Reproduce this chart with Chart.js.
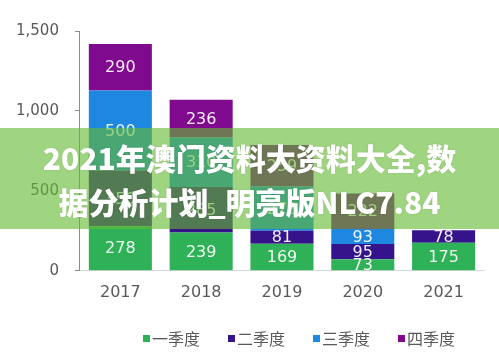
<!DOCTYPE html>
<html>
<head>
<meta charset="utf-8">
<script src="https://cdn.jsdelivr.net/npm/chart.js@4/dist/chart.umd.min.js"></script>
<style>
  html, body { margin: 0; padding: 0; background: #ffffff; }
  #wrap { position: relative; width: 499px; height: 359px; overflow: hidden; }
  #c { position: absolute; left: 0; top: 0; }
  #legend {
    position: absolute; left: 143px; top: 326px; height: 24px;
    display: flex; align-items: center;
    font-family: "Noto Sans CJK SC", sans-serif; font-size: 16px; color: #595959;
  }
  #legend .item { display: flex; align-items: center; margin-right: 28px; }
  #legend .sw { width: 7px; height: 7px; margin-right: 2px; }
  #band {
    position: absolute; left: 0; top: 128px; width: 499px; height: 101px;
    background: rgba(100, 185, 50, 0.62);
    display: flex; flex-direction: column; align-items: center; justify-content: center;
    font-family: "Noto Sans CJK SC", "Noto Sans", sans-serif; font-weight: 900;
    font-size: 30px; line-height: 44px; color: #ffffff; text-align: center;
    text-shadow: 0 0 2px rgba(0,0,0,0.15);
  }
</style>
</head>
<body>
<div id="wrap">
  <canvas id="c" width="499" height="359"></canvas>
  <div id="legend"></div>
  <div id="band"><div>2021年澳门资料大资料大全,数</div><div>据分析计划_明亮版NLC7.84</div></div>
</div>
<script>
const categories = ['2017', '2018', '2019', '2020', '2021'];
const seriesNames = ['一季度', '二季度', '三季度', '四季度'];
const q1 = [278, 239, 169, 73, 175];
const q2 = [350, 285, 81, 95, 78];
const q3 = [500, 310, 278, 93, null];
const q4 = [290, 236, 259, 222, null];
const yTicks = [0, 500, 1000, 1500];

const colors = ['#2eb157', '#35138a', '#1e88e0', '#7f0a8e'];
const labelColors = ['#eefaf0', '#f1eefc', '#eef6ff', '#fbeefb'];

const valueLabels = {
  id: 'valueLabels',
  afterDatasetsDraw(chart) {
    const ctx = chart.ctx;
    ctx.save();
    ctx.font = '16px "DejaVu Sans", Verdana, sans-serif';
    ctx.textAlign = 'center';
    ctx.textBaseline = 'middle';
    chart.data.datasets.forEach((ds, di) => {
      const meta = chart.getDatasetMeta(di);
      meta.data.forEach((bar, i) => {
        const v = ds.data[i];
        if (v === null || v === undefined) return;
        const p = bar.getProps(['x', 'y', 'base'], true);
        ctx.fillStyle = labelColors[di];
        ctx.fillText(String(v), p.x, (p.y + p.base) / 2 + 1);
      });
    });
    ctx.restore();
  }
};

const htmlLegend = {
  id: 'htmlLegend',
  afterUpdate(chart) {
    const el = document.getElementById('legend');
    el.innerHTML = '';
    chart.data.datasets.forEach(ds => {
      const item = document.createElement('div');
      item.className = 'item';
      const sw = document.createElement('span');
      sw.className = 'sw';
      sw.style.background = ds.backgroundColor;
      const tx = document.createElement('span');
      tx.textContent = ds.label;
      item.appendChild(sw);
      item.appendChild(tx);
      el.appendChild(item);
    });
  }
};

const allSeries = [q1, q2, q3, q4];
new Chart(document.getElementById('c'), {
  type: 'bar',
  data: {
    labels: categories,
    datasets: allSeries.map((d, i) => ({
      label: seriesNames[i],
      data: d,
      backgroundColor: colors[i],
      borderWidth: 0,
      categoryPercentage: 1.0,
      barPercentage: 0.78
    }))
  },
  options: {
    responsive: false,
    animation: false,
    devicePixelRatio: 1,
    layout: { padding: { left: 0, right: 15, top: 31, bottom: 45 } },
    plugins: {
      tooltip: { enabled: false },
      legend: { display: false }
    },
    scales: {
      x: {
        stacked: true,
        grid: { display: false, drawTicks: false },
        border: { display: true, color: '#d9d9d9' },
        ticks: { color: '#595959', font: { family: '"DejaVu Sans", Verdana, sans-serif', size: 16 }, padding: 12 }
      },
      y: {
        stacked: true,
        min: 0, max: 1500,
        afterBuildTicks(axis) { axis.ticks = yTicks.map(v => ({ value: v })); },
        grid: { drawOnChartArea: false, drawTicks: true, tickLength: 5, color: '#8c8c8c' },
        border: { display: true, color: '#8c8c8c' },
        ticks: { color: '#595959', font: { family: '"DejaVu Sans", Verdana, sans-serif', size: 15 }, padding: 16 }
      }
    }
  },
  plugins: [valueLabels, htmlLegend]
});
</script>
</body>
</html>
